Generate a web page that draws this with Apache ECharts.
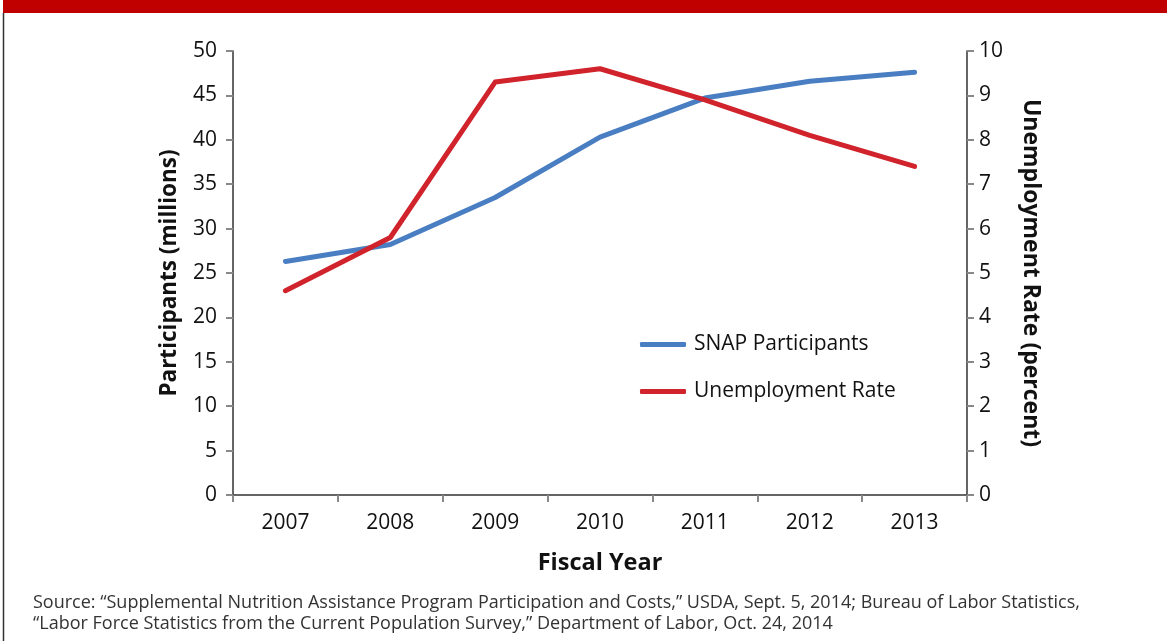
<!DOCTYPE html>
<html>
<head>
<meta charset="utf-8">
<script src="https://cdn.jsdelivr.net/npm/echarts@6/dist/echarts.min.js"></script>
<style>
html,body{margin:0;padding:0;background:#fff;}
#chart{width:1167px;height:641px;}
</style>
</head>
<body>
<div id="chart"></div>
<script>
const years = ['2007','2008','2009','2010','2011','2012','2013'];
const snapParticipants = [26.3, 28.2, 33.5, 40.3, 44.7, 46.6, 47.6];
const unemploymentRate = [4.6, 5.8, 9.3, 9.6, 8.9, 8.1, 7.4];
const leftTicks = {min: 0, max: 50, interval: 5};
const rightTicks = {min: 0, max: 10, interval: 1};
const sourceLines = [
  'Source: \u201cSupplemental Nutrition Assistance Program Participation and Costs,\u201d USDA, Sept. 5, 2014; Bureau of Labor Statistics,',
  '\u201cLabor Force Statistics from the Current Population Survey,\u201d Department of Labor, Oct. 24, 2014'
];

const FONT = '"Open Sans", "Noto Sans", sans-serif';
const chart = echarts.init(document.getElementById('chart'), null, {renderer: 'canvas'});
const axisLabelStyle = {color: '#111', fontSize: 21, fontFamily: FONT};

chart.setOption({
  animation: false,
  backgroundColor: '#fff',
  grid: {left: 233, right: 200, top: 51, bottom: 146, containLabel: false},
  legend: {
    orient: 'vertical',
    left: 635,
    top: 325,
    itemWidth: 46,
    itemHeight: 5,
    itemGap: 18,
    icon: 'roundRect',
    textStyle: {fontSize: 21, color: '#111', fontFamily: FONT, padding: [0, 0, 0, 3], lineHeight: 29},
    data: ['SNAP Participants', 'Unemployment Rate']
  },
  xAxis: {
    type: 'category',
    data: years,
    boundaryGap: true,
    name: 'Fiscal Year',
    nameLocation: 'middle',
    nameGap: 56,
    nameTextStyle: {fontSize: 23.5, fontWeight: 'bold', color: '#111', fontFamily: FONT},
    axisLine: {lineStyle: {color: '#333', width: 1.5}},
    axisTick: {show: true, length: 7, alignWithLabel: false, lineStyle: {color: '#888', width: 2}},
    axisLabel: Object.assign({margin: 18}, axisLabelStyle),
    splitLine: {show: false}
  },
  yAxis: [
    {
      type: 'value',
      min: leftTicks.min, max: leftTicks.max, interval: leftTicks.interval,
      name: 'Participants (millions)',
      nameLocation: 'middle',
      nameGap: 52,
      nameTextStyle: {fontSize: 22.5, fontWeight: 'bold', color: '#111', fontFamily: FONT},
      axisLine: {show: true, lineStyle: {color: '#333', width: 1.5}},
      axisTick: {show: true, length: 7, lineStyle: {color: '#888', width: 2}},
      axisLabel: Object.assign({margin: 16}, axisLabelStyle),
      splitLine: {show: false}
    },
    {
      type: 'value',
      position: 'right',
      min: rightTicks.min, max: rightTicks.max, interval: rightTicks.interval,
      name: 'Unemployment Rate (percent)',
      nameLocation: 'middle',
      nameGap: 52,
      nameRotate: -90,
      nameTextStyle: {fontSize: 23, fontWeight: 'bold', color: '#111', fontFamily: FONT},
      axisLine: {show: true, lineStyle: {color: '#333', width: 1.5}},
      axisTick: {show: true, length: 7, lineStyle: {color: '#888', width: 2}},
      axisLabel: Object.assign({margin: 12}, axisLabelStyle),
      splitLine: {show: false}
    }
  ],
  series: [
    {
      name: 'SNAP Participants',
      type: 'line',
      yAxisIndex: 0,
      data: snapParticipants,
      showSymbol: false,
      symbol: 'none',
      lineStyle: {color: '#4a7ec2', width: 5, cap: 'round', join: 'round'},
      itemStyle: {color: '#4a7ec2'}
    },
    {
      name: 'Unemployment Rate',
      type: 'line',
      yAxisIndex: 1,
      data: unemploymentRate,
      showSymbol: false,
      symbol: 'none',
      lineStyle: {color: '#d0232b', width: 5, cap: 'round', join: 'round'},
      itemStyle: {color: '#d0232b'}
    }
  ],
  graphic: [
    {type: 'rect', shape: {x: 3, y: 0, width: 1164, height: 13}, style: {fill: '#c00000'}},
    {type: 'line', shape: {x1: 3.5, y1: 13, x2: 3.5, y2: 641}, style: {stroke: '#333', lineWidth: 1.5}},
    {type: 'text', left: 33, top: 594, style: {text: sourceLines[0], font: '18px ' + FONT, fill: '#333'}},
    {type: 'text', left: 33, top: 615, style: {text: sourceLines[1], font: '18px ' + FONT, fill: '#333'}}
  ]
});
</script>
</body>
</html>
